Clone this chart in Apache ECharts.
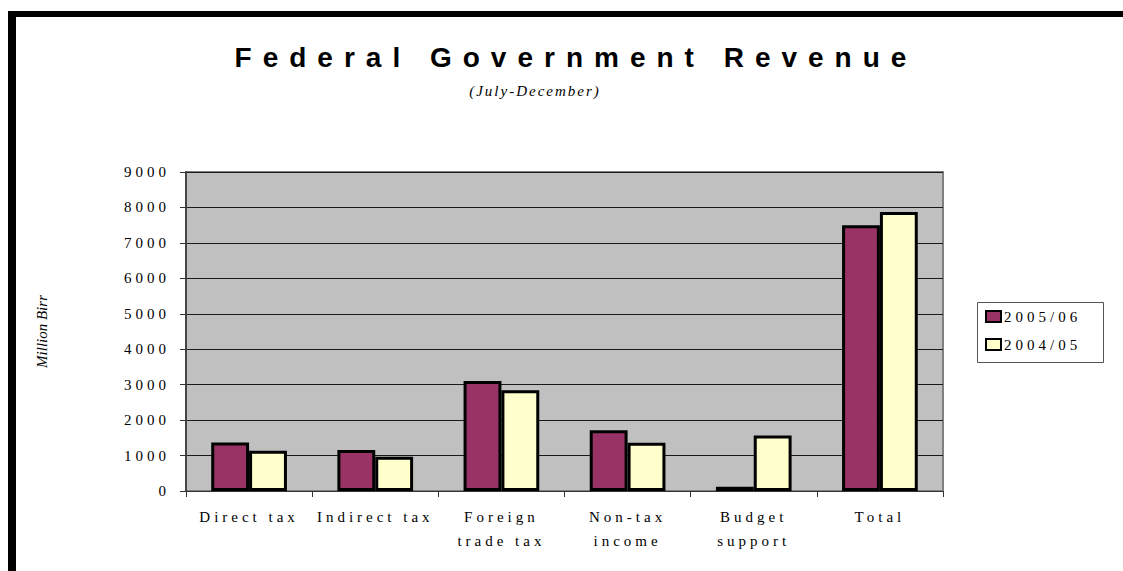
<!DOCTYPE html>
<html>
<head>
<meta charset="utf-8">
<script src="https://cdn.jsdelivr.net/npm/echarts@6/dist/echarts.min.js"></script>
<style>
  html, body { margin: 0; padding: 0; background: #fff; }
  #chart { width: 1123px; height: 571px; }
  #chart text[style*="Liberation Serif"] { letter-spacing: 4px; }
  #chart text[style*="italic"][style*="Liberation Serif"] { letter-spacing: 2px; }
  #chart text[style*="Narrow"] { letter-spacing: 11px; }
</style>
</head>
<body>
<div id="chart"></div>
<script>
const categories = ['Direct tax', 'Indirect tax', 'Foreign\ntrade tax', 'Non-tax\nincome', 'Budget\nsupport', 'Total'];
const seriesNames = ['2005/06', '2004/05'];
const values2005 = [1370, 1155, 3105, 1715, 120, 7495];
const values2004 = [1135, 965, 2845, 1360, 1565, 7870];
const yTicks = [0, 1000, 2000, 3000, 4000, 5000, 6000, 7000, 8000, 9000];
const titleText = 'Federal Government Revenue';
const subtitleText = '(July-December)';
const yName = 'Million Birr';

const serif = "'Liberation Serif', serif";
const chart = echarts.init(document.getElementById('chart'), null, { renderer: 'svg' });
chart.setOption({
  animation: false,
  backgroundColor: '#ffffff',
  graphic: [
    { type: 'rect', shape: { x: 8, y: 11, width: 8, height: 570 }, style: { fill: '#000' }, silent: true },
    { type: 'rect', shape: { x: 8, y: 11, width: 1120, height: 6 }, style: { fill: '#000' }, silent: true },
    { type: 'rect', shape: { x: 977.5, y: 302.5, width: 126, height: 60 }, style: { fill: 'none', stroke: '#555', lineWidth: 1 }, silent: true },
    { type: 'text', x: 576, y: 57, style: { text: titleText, fill: '#000', font: "bold 28px 'Liberation Sans Narrow', 'Liberation Sans', sans-serif", textAlign: 'center', textVerticalAlign: 'middle' } },
    { type: 'text', x: 535, y: 91, style: { text: subtitleText, fill: '#000', font: "italic 15px 'Liberation Serif', serif", textAlign: 'center', textVerticalAlign: 'middle' } }
  ],
  legend: {
    data: seriesNames,
    orient: 'vertical',
    left: 977,
    top: 302,
    padding: [7, 10, 7, 8],
    itemGap: 13,
    itemWidth: 15,
    itemHeight: 11,
    icon: 'rect',
    itemStyle: { borderColor: '#000', borderWidth: 2 },
    textStyle: { fontFamily: serif, fontSize: 15, color: '#000', padding: [0, 0, 0, -2] }
  },
  grid: {
    left: 186, right: 180, top: 172, bottom: 80,
    show: true, backgroundColor: '#C0C0C0', borderColor: '#808080', borderWidth: 2,
    containLabel: false
  },
  xAxis: {
    type: 'category',
    data: categories,
    axisLine: { lineStyle: { color: '#333', width: 1 } },
    axisTick: { show: true, length: 6, lineStyle: { color: '#333' } },
    axisLabel: { fontFamily: serif, fontSize: 15, color: '#000', lineHeight: 24, margin: 14, interval: 0 }
  },
  yAxis: {
    type: 'value',
    min: yTicks[0],
    max: yTicks[yTicks.length - 1],
    interval: yTicks[1] - yTicks[0],
    name: yName,
    nameLocation: 'middle',
    nameGap: 137,
    nameTextStyle: { fontFamily: "'Times New Roman', serif", fontStyle: 'italic', fontSize: 15, color: '#000' },
    axisLine: { show: true, lineStyle: { color: '#444', width: 2 } },
    axisTick: { show: true, length: 6, lineStyle: { color: '#333' } },
    axisLabel: { fontFamily: serif, fontSize: 15, color: '#000', margin: 16, formatter: function (v) { return String(v); } },
    splitLine: { lineStyle: { color: '#1a1a1a', width: 1 } }
  },
  series: [
    { name: seriesNames[0], type: 'bar', data: values2005, barWidth: '30%', barGap: '0%',
      itemStyle: { color: '#993366', borderColor: '#000', borderWidth: 3 } },
    { name: seriesNames[1], type: 'bar', data: values2004, barWidth: '30%', barGap: '0%',
      itemStyle: { color: '#FFFFCC', borderColor: '#000', borderWidth: 3 } }
  ]
});
</script>
</body>
</html>
